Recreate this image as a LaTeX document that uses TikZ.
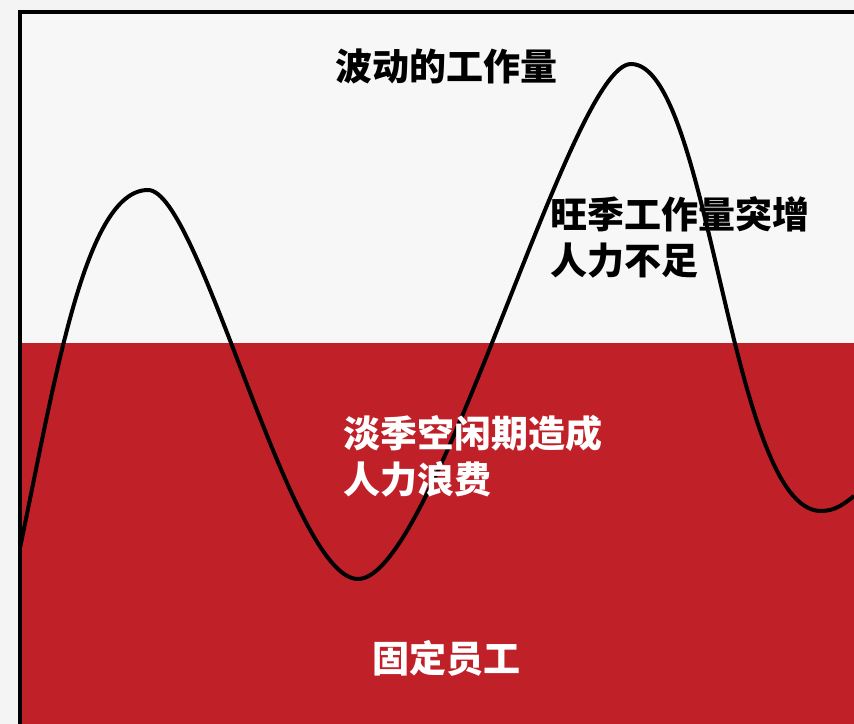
\documentclass[tikz,border=0pt]{standalone}
\usepackage{fontspec}
\newfontfamily\cjk{Noto Sans CJK SC}
\usetikzlibrary{calc}
\definecolor{outerbg}{HTML}{F4F4F4}
\definecolor{innerbg}{HTML}{F7F7F7}
\definecolor{staffred}{HTML}{C02129}
\begin{document}
\begin{tikzpicture}[x=0.75pt, y=-0.75pt,
    darktext/.style={font=\cjk\bfseries\fontsize{27.75}{34.5}\selectfont, text=black, inner sep=0pt, align=left},
    lighttext/.style={darktext, text=white}]
          \useasboundingbox (0,0) rectangle (854,724);
          \fill [outerbg] (0,0) rectangle (854,724); % Page
          \fill [innerbg] (20,12) rectangle (854,724); % Plot area
          \fill [staffred] (20,343) rectangle (854,724); % Fixed staff level

          \draw [line width=3pt] (20,548)
            .. controls (55,380) and (85,190) .. (148,190)
            .. controls (200,190) and (290,579) .. (358,579)
            .. controls (435,579) and (570,64) .. (631,64)
            .. controls (710,64) and (730,511) .. (821,511)
            .. controls (836,511) and (845,503) .. (854,496); % Workload curve

          \draw [line width=3pt, line join=miter] (19.7,724) -- (19.7,11.7) -- (854,11.7); % Axes

          \node [darktext] (title) at (446,66) {波动的工作量};
          \node [darktext, anchor=west] (peak) at (550,237) {旺季工作量突增\\人力不足};
          \node [lighttext, anchor=west] (slack) at (343,456) {淡季空闲期造成\\人力浪费};
          \node [lighttext] (staff) at (446,658) {固定员工};
        \end{tikzpicture}
\end{document}
